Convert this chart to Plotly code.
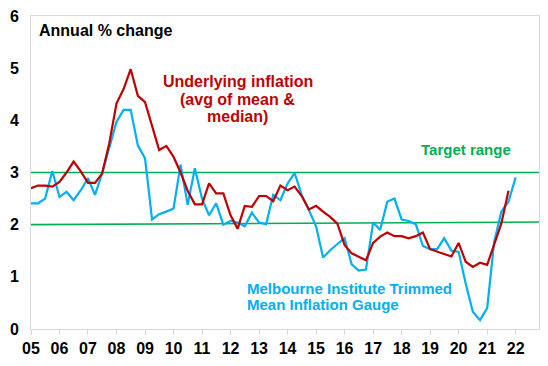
import pandas as pd
import plotly.graph_objects as go

# Quarterly observations, 2005 Q1 onwards
underlying = [2.70, 2.75, 2.75, 2.73, 2.82, 3.00, 3.21, 3.02, 2.80, 2.80,
              2.98, 3.56, 4.32, 4.60, 4.98, 4.47, 4.35, 3.90, 3.43, 3.51,
              3.30, 3.00, 2.65, 2.39, 2.39, 2.79, 2.60, 2.60, 2.18, 1.92,
              2.36, 2.34, 2.55, 2.55, 2.45, 2.75, 2.66, 2.73, 2.55, 2.29,
              2.36, 2.25, 2.15, 2.02, 1.61, 1.45, 1.39, 1.32, 1.65, 1.77,
              1.85, 1.78, 1.78, 1.74, 1.78, 1.85, 1.53, 1.48, 1.44, 1.39,
              1.65, 1.29, 1.19, 1.27, 1.23, 1.64, 2.02, 2.65]

melbourne = [2.41, 2.41, 2.50, 3.03, 2.53, 2.63, 2.47, 2.66, 2.89, 2.57,
             2.98, 3.47, 3.97, 4.20, 4.20, 3.52, 3.27, 2.10, 2.20, 2.25,
             2.31, 3.15, 2.38, 3.08, 2.50, 2.18, 2.41, 2.00, 2.07, 2.04,
             1.97, 2.23, 2.04, 2.01, 2.57, 2.47, 2.79, 2.99, 2.57, 2.28,
             1.97, 1.37, 1.51, 1.63, 1.74, 1.24, 1.12, 1.14, 2.04, 1.90,
             2.44, 2.50, 2.10, 2.07, 2.01, 1.59, 1.53, 1.53, 1.74, 1.50,
             1.48, 0.87, 0.33, 0.17, 0.40, 1.67, 2.25, 2.44, 2.91]

target_low = [2.0, 2.05]   # left / right ends of lower band line
target_high = [3.0, 3.0]

dates_u = pd.date_range("2005-01-01", periods=len(underlying), freq="QS")
dates_m = pd.date_range("2005-01-01", periods=len(melbourne), freq="QS")

RED = "#C00000"
BLUE = "#00B0F0"
GREEN = "#00B050"
GRID = "#D9D9D9"
FONT = "Liberation Sans"

fig = go.Figure()
fig.add_trace(go.Scatter(x=dates_m, y=melbourne, mode="lines",
                         line=dict(color=BLUE, width=2.2), showlegend=False))
fig.add_trace(go.Scatter(x=dates_u, y=underlying, mode="lines",
                         line=dict(color=RED, width=2.2), showlegend=False))

for ends in (target_low, target_high):
    fig.add_shape(type="line", xref="paper", yref="y", x0=0, x1=1,
                  y0=ends[0], y1=ends[1], line=dict(color=GREEN, width=1.6),
                  layer="below")

# page offset caused by the default 8px body margin
OFF = 8
PL, PR, PT, PB = 31, 539, 16, 329      # plot box in page pixels
W, H = 548 - OFF, 366 - OFF
L, T = PL - OFF, PT - OFF
pw, ph = PR - PL, PB - PT


def px(x):
    return (x - PL) / pw


def py(y):
    return (PB - y) / ph


def note(text, x, y, color, size, xanchor="left"):
    fig.add_annotation(text=text, xref="paper", yref="paper", x=px(x), y=py(y),
                       xanchor=xanchor, yanchor="middle", showarrow=False,
                       font=dict(family=FONT, size=size, color=color, weight="bold"))


note("Annual % change", 37, 30, "black", 16)
note("Underlying inflation", 237.5, 81, RED, 16, "center")
note("(avg of mean &", 237.5, 99, RED, 16, "center")
note("median)", 237.5, 116, RED, 16, "center")
note("Target range", 465.5, 149, GREEN, 15, "center")
note("Melbourne Institute Trimmed", 245, 288, BLUE, 15)
note("Mean Inflation Gauge", 245, 304, BLUE, 15)

fig.update_layout(
    width=W, height=H,
    margin=dict(l=L, r=W - L - pw, t=T, b=H - T - ph, autoexpand=False),
    paper_bgcolor="white", plot_bgcolor="white",
    font=dict(family=FONT),
    xaxis=dict(type="date", range=["2005-01-01", "2022-10-27"],
               tick0="2005-01-01", dtick="M12", tickformat="%y",
               showgrid=False, zeroline=False,
               showline=True, linecolor=GRID, linewidth=1, mirror=True,
               ticks="outside", ticklen=5, tickcolor=GRID,
               ticklabeloverflow="allow",
               tickfont=dict(family=FONT, size=16, color="black", weight="bold")),
    yaxis=dict(range=[0, 6], dtick=1, showgrid=False, zeroline=False,
               showline=True, linecolor=GRID, linewidth=1, mirror=True,
               ticks="", ticklabelstandoff=8, ticklabeloverflow="allow",
               tickfont=dict(family=FONT, size=16, color="black", weight="bold")),
)

fig.write_html("out.html")
